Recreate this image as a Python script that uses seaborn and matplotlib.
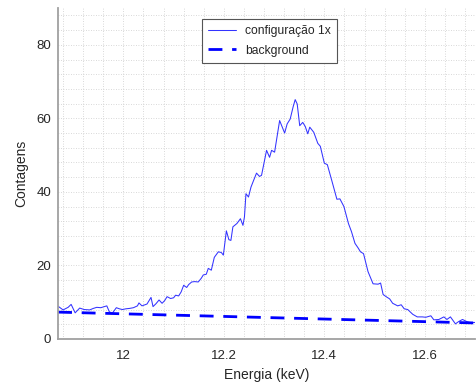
import numpy as np
import pandas as pd
import matplotlib
matplotlib.use("Agg")
import matplotlib.pyplot as plt
from matplotlib.ticker import MultipleLocator
import seaborn as sns

# --- data ---
energia = [11.870, 11.880, 11.890, 11.896, 11.904, 11.913, 11.922, 11.933, 11.940, 11.947,
           11.955, 11.967, 11.972, 11.978, 11.986, 11.992, 11.998, 12.005, 12.012, 12.020,
           12.028, 12.031, 12.037, 12.047, 12.055, 12.059, 12.065, 12.071, 12.077, 12.082,
           12.087, 12.094, 12.100, 12.104, 12.110, 12.115, 12.120, 12.126, 12.130, 12.136,
           12.142, 12.149, 12.155, 12.159, 12.165, 12.169, 12.175, 12.181, 12.189, 12.195,
           12.199, 12.205, 12.210, 12.214, 12.218, 12.226, 12.233, 12.238, 12.241, 12.244,
           12.249, 12.254, 12.258, 12.265, 12.271, 12.275, 12.285, 12.291, 12.295, 12.301,
           12.311, 12.321, 12.326, 12.332, 12.338, 12.342, 12.346, 12.351, 12.357, 12.362,
           12.367, 12.371, 12.379, 12.387, 12.392, 12.400, 12.406, 12.415, 12.425, 12.431,
           12.439, 12.448, 12.454, 12.461, 12.467, 12.472, 12.478, 12.487, 12.497, 12.507,
           12.512, 12.517, 12.523, 12.530, 12.536, 12.546, 12.553, 12.559, 12.566, 12.576,
           12.585, 12.595, 12.602, 12.612, 12.618, 12.628, 12.638, 12.644, 12.651, 12.661,
           12.667, 12.675, 12.684, 12.692, 12.700]
contagens = [8.9, 7.9, 8.6, 9.4, 7.1, 8.4, 8.0, 7.9, 8.3, 8.6,
             8.5, 9.0, 7.4, 7.0, 8.5, 8.2, 8.0, 8.2, 8.3, 8.5,
             9.0, 9.8, 9.0, 9.5, 11.3, 8.8, 9.6, 10.6, 9.7, 10.4,
             11.5, 11.0, 11.2, 11.9, 11.7, 12.8, 14.6, 14.0, 14.8, 15.5,
             15.6, 15.5, 16.5, 17.4, 17.6, 19.2, 18.7, 22.2, 23.7, 23.5,
             22.8, 29.4, 27.0, 26.8, 30.5, 31.4, 32.7, 30.9, 33.2, 39.5,
             38.6, 41.3, 42.7, 45.1, 44.2, 44.5, 51.3, 49.4, 51.3, 50.8,
             59.4, 56.0, 58.5, 59.8, 63.2, 65.1, 63.9, 58.0, 58.9, 57.8,
             55.8, 57.6, 56.2, 53.2, 52.4, 47.8, 47.4, 43.0, 38.0, 38.1,
             36.0, 31.4, 29.2, 26.0, 24.8, 23.7, 23.2, 18.3, 15.0, 14.9,
             15.2, 12.1, 11.5, 10.9, 9.7, 9.0, 9.3, 8.2, 8.0, 6.7,
             6.0, 6.0, 5.9, 6.3, 5.2, 5.3, 6.0, 5.3, 6.0, 4.1,
             4.7, 5.3, 4.7, 4.4, 4.5]
bg_energia = [11.87, 12.70]
bg_contagens = [7.3, 4.35]

series_labels = ["configuração 1x", "background"]
x_ticks = [12.0, 12.2, 12.4, 12.6]
x_tick_labels = ["12", "12.2", "12.4", "12.6"]
y_ticks = [0, 20, 40, 60, 80]

sns.set_theme(style="white")
plt.rcParams['font.family'] = ['Liberation Sans', 'DejaVu Sans']

fig = plt.figure(figsize=(4.76, 3.83), dpi=100)
ax = fig.add_axes([0.122, 0.115, 0.876, 0.864])

spec = pd.DataFrame({"x": energia, "y": contagens})
bg = pd.DataFrame({"x": bg_energia, "y": bg_contagens})

sns.lineplot(data=spec, x="x", y="y", ax=ax, color="#3333ff", linewidth=0.75,
             sort=False, estimator=None, label=series_labels[0])
sns.lineplot(data=bg, x="x", y="y", ax=ax, color="#0000ff", linewidth=2.0,
             sort=False, estimator=None, label=series_labels[1])
ax.lines[1].set_dashes([5, 3.5])

ax.set_xlim(11.87, 12.70)
ax.set_ylim(0, 90)
ax.set_xticks(x_ticks)
ax.set_xticklabels(x_tick_labels)
ax.set_yticks(y_ticks)
ax.xaxis.set_minor_locator(MultipleLocator(0.04))
ax.yaxis.set_minor_locator(MultipleLocator(4))

ax.grid(True, which="both", linestyle=(0, (1, 2)), color="#cccccc", linewidth=0.6)
ax.set_axisbelow(True)

for s in ["top", "right"]:
    ax.spines[s].set_visible(False)
for s in ["left", "bottom"]:
    ax.spines[s].set_color("#a0a0a0")
    ax.spines[s].set_linewidth(1.3)

ax.tick_params(axis="x", which="major", pad=8)
ax.tick_params(axis="y", which="major", pad=5)
ax.tick_params(axis="both", which="major", direction="in", length=3, width=0.8,
               color="#808080", labelsize=9.5, labelcolor="#262626")
ax.tick_params(axis="both", which="minor", length=0)

ax.set_xlabel("Energia (keV)", fontsize=10, color="#262626", labelpad=4)
ax.set_ylabel("Contagens", fontsize=10, color="#262626", labelpad=6)

leg = ax.legend(loc="upper center", bbox_to_anchor=(0.507, 0.986), fontsize=8.7,
                frameon=True, fancybox=False, handlelength=2.3, borderpad=0.55,
                labelspacing=0.6, handletextpad=0.7)
leg.get_frame().set_edgecolor("#555555")
leg.get_frame().set_linewidth(0.8)
leg.get_frame().set_alpha(1)

fig.savefig("out.png", dpi=100)
